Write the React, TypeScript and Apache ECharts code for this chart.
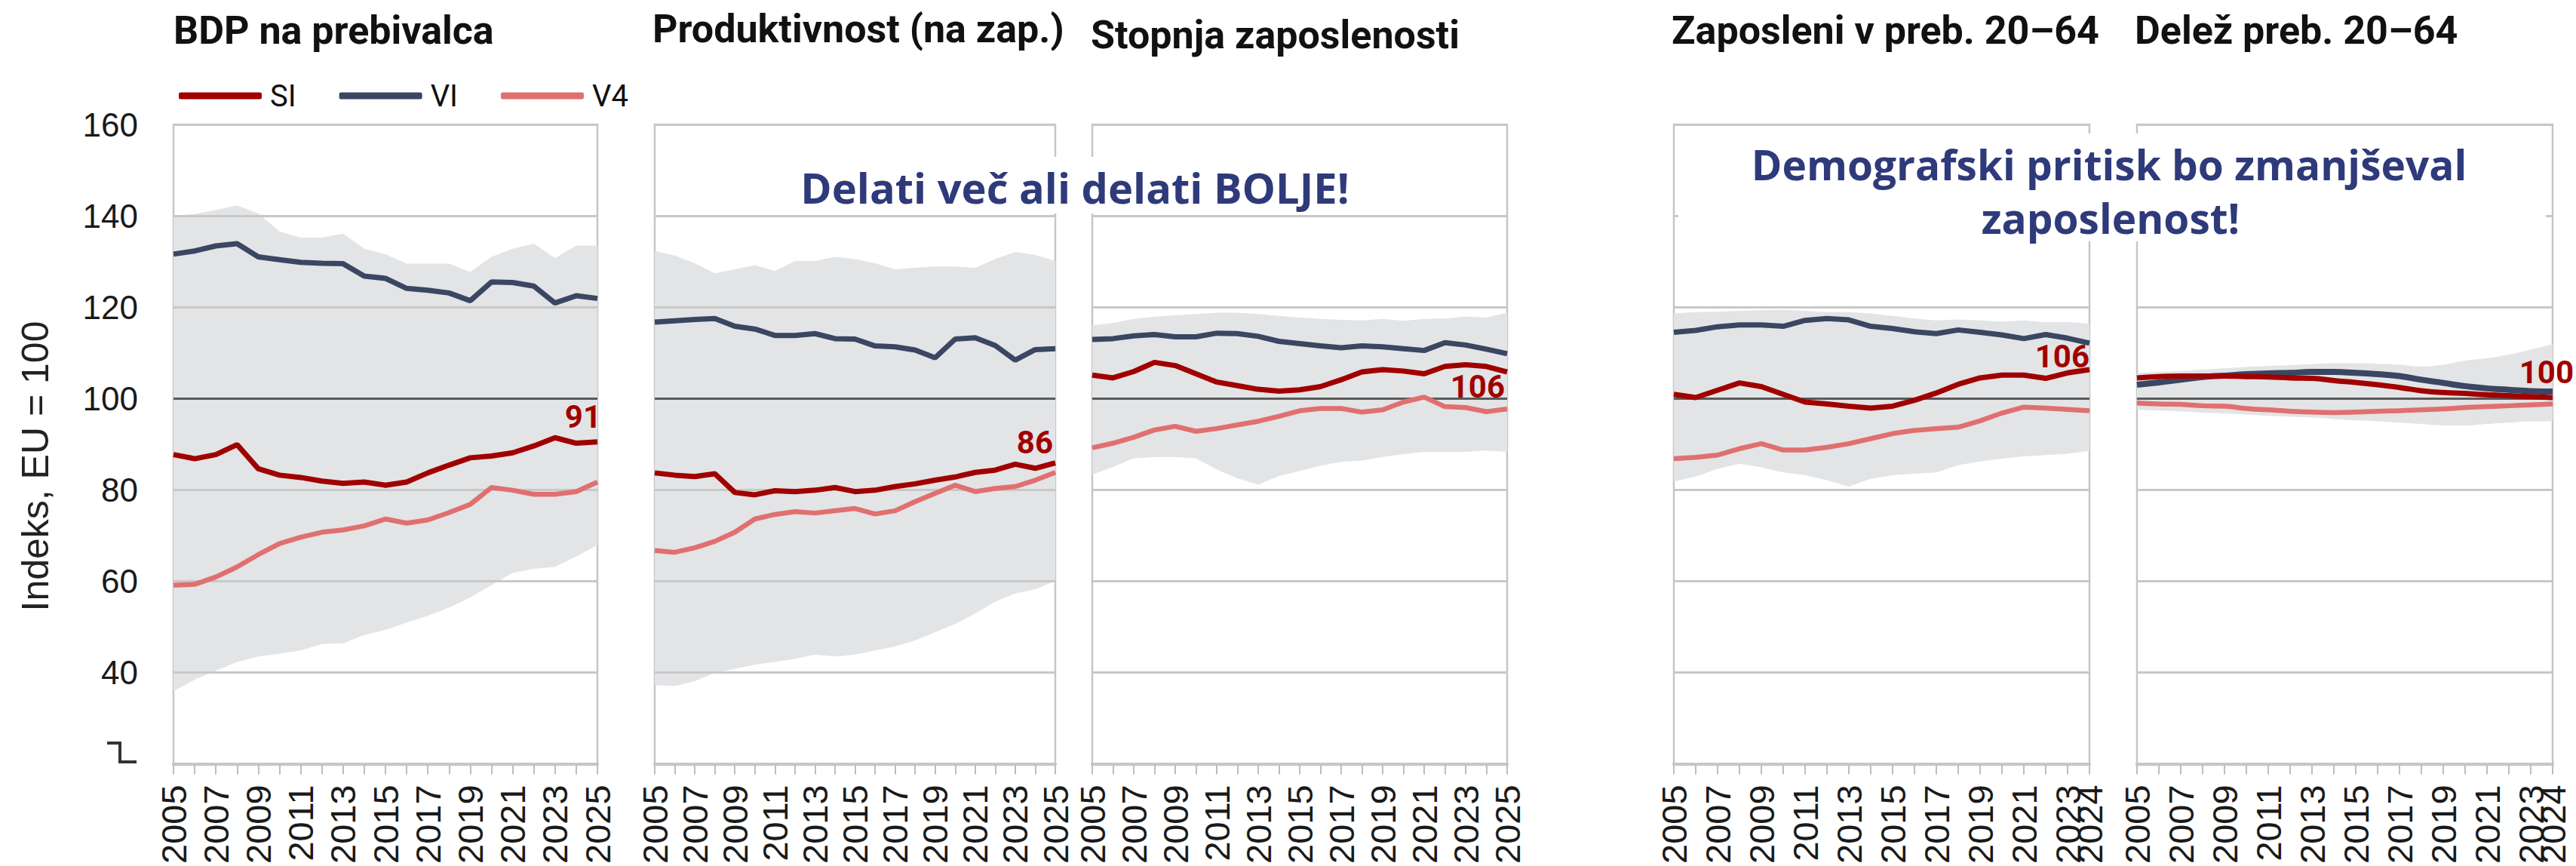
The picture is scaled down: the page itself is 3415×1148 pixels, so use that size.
import React, { useEffect, useRef } from 'react';
import * as echarts from 'echarts';

// ---------- categories ----------
const years21 = ['2005','2006','2007','2008','2009','2010','2011','2012','2013','2014','2015','2016','2017','2018','2019','2020','2021','2022','2023','2024','2025'];
const years20 = ['2005','2006','2007','2008','2009','2010','2011','2012','2013','2014','2015','2016','2017','2018','2019','2020','2021','2022','2023','2024'];

// ---------- Panel 1: BDP na prebivalca ----------
const bdpSI = [87.7,86.8,87.7,89.9,84.6,83.2,82.7,81.9,81.4,81.7,81.0,81.7,83.7,85.4,87.0,87.4,88.1,89.6,91.4,90.2,90.5];
const bdpVI = [131.6,132.3,133.4,133.9,131.0,130.4,129.8,129.6,129.5,126.8,126.3,124.1,123.7,123.1,121.4,125.5,125.4,124.6,120.9,122.5,121.9];
const bdpV4 = [59.1,59.3,60.9,63.1,65.8,68.2,69.6,70.7,71.2,72.1,73.6,72.7,73.4,75.0,76.8,80.5,79.9,79.0,79.0,79.6,81.7];
const bdpHi = [140.0,140.4,141.3,142.3,140.5,136.6,135.2,135.2,136.1,132.8,131.6,129.5,129.5,129.5,127.7,131.0,132.8,133.9,130.7,133.5,133.5];
const bdpLo = [35.9,38.4,40.4,42.3,43.5,44.1,44.8,46.2,46.4,48.2,49.3,50.9,52.4,54.2,56.4,59.1,61.8,62.7,63.1,65.4,67.9];

// ---------- Panel 2: Produktivnost (na zap.) ----------
const prodSI = [83.7,83.2,82.9,83.5,79.4,78.9,79.8,79.6,79.9,80.5,79.6,79.9,80.7,81.3,82.1,82.8,83.8,84.3,85.6,84.7,85.9];
const prodVI = [116.7,117.0,117.3,117.5,115.8,115.2,113.8,113.8,114.2,113.1,113.0,111.5,111.3,110.6,108.9,113.0,113.3,111.6,108.4,110.7,110.9];
const prodV4 = [66.7,66.3,67.3,68.7,70.7,73.6,74.6,75.2,74.9,75.4,75.9,74.7,75.4,77.4,79.2,81.0,79.6,80.3,80.7,82.1,83.8];
const prodHi = [132.3,131.3,129.6,127.4,128.3,129.2,127.9,130.1,130.1,131.0,130.5,129.6,128.3,128.6,128.9,128.9,128.6,130.5,132.1,131.4,130.1];
const prodLo = [37.2,37.0,38.1,39.9,40.8,41.7,42.3,43.0,43.9,43.5,43.9,44.8,45.7,47.0,48.8,50.6,52.9,55.5,57.3,58.2,60.0];

// ---------- Panel 3: Stopnja zaposlenosti ----------
const rateSI = [105.1,104.5,105.9,107.9,107.2,105.4,103.6,102.8,102.0,101.6,101.9,102.6,104.1,105.8,106.3,106.0,105.4,107.0,107.4,107.0,105.8];
const rateVI = [112.9,113.1,113.7,114.0,113.5,113.5,114.3,114.2,113.6,112.5,112.0,111.5,111.1,111.5,111.3,110.9,110.5,112.2,111.7,110.8,109.8];
const rateV4 = [89.2,90.2,91.5,93.1,93.9,92.8,93.4,94.2,95.0,96.1,97.3,97.8,97.8,97.0,97.5,99.2,100.3,98.2,98.0,97.1,97.7];
const rateHi = [116.0,116.5,117.4,117.9,118.2,118.5,118.8,118.8,118.5,118.1,117.7,117.4,117.2,117.1,117.4,117.0,117.4,117.5,117.9,117.7,118.8];
const rateLo = [83.3,85.0,86.9,87.2,87.2,86.9,84.4,82.5,81.1,83.0,84.1,85.3,86.1,86.4,87.2,87.8,88.3,88.3,88.3,88.6,88.3];

// ---------- Panel 4: Zaposleni v preb. 20–64 ----------
const empSI = [100.9,100.2,101.8,103.4,102.6,100.9,99.2,98.8,98.3,97.9,98.3,99.6,101.2,103.1,104.5,105.1,105.1,104.4,105.6,106.3];
const empVI = [114.5,114.9,115.7,116.1,116.1,115.8,117.1,117.5,117.2,115.8,115.3,114.6,114.2,115.0,114.5,113.9,113.1,114.0,113.2,112.1];
const empV4 = [86.8,87.1,87.6,89.0,90.1,88.7,88.7,89.3,90.1,91.2,92.3,93.0,93.4,93.7,95.1,96.8,98.1,97.9,97.6,97.3];
const empHi = [118.6,118.9,119.0,119.2,119.3,119.4,119.2,118.9,118.9,118.6,118.1,117.5,117.1,117.3,117.1,116.8,117.1,116.7,116.7,116.4];
const empLo = [81.8,82.9,84.6,85.7,84.9,83.8,83.2,82.1,80.7,82.4,83.2,83.5,83.8,85.4,86.2,86.8,87.3,87.6,87.9,88.5];

// ---------- Panel 5: Delež preb. 20–64 ----------
const popSI = [104.5,104.8,104.9,104.9,104.9,104.8,104.7,104.5,104.4,103.9,103.5,103.0,102.4,101.7,101.3,101.1,100.8,100.6,100.4,100.2];
const popVI = [103.0,103.5,104.1,104.7,105.0,105.3,105.5,105.6,105.8,105.8,105.6,105.3,104.9,104.1,103.4,102.7,102.2,101.9,101.6,101.5];
const popV4 = [99.0,98.8,98.7,98.4,98.3,97.8,97.5,97.2,97.0,96.9,97.0,97.2,97.3,97.5,97.7,98.0,98.2,98.4,98.6,98.8];
const popHi = [105.6,105.8,106.0,106.3,106.6,106.9,107.1,107.3,107.5,107.7,107.7,107.6,107.4,107.0,107.4,108.3,108.8,109.6,110.7,111.9];
const popLo = [97.5,97.3,97.2,96.9,96.7,96.5,96.2,96.0,95.8,95.5,95.2,95.0,94.7,94.4,94.1,94.1,94.4,94.7,95.0,95.0];

// ---------- texts ----------
const titles = ['BDP na prebivalca', 'Produktivnost (na zap.)', 'Stopnja zaposlenosti', 'Zaposleni v preb. 20–64', 'Delež preb. 20–64'];
const seriesNames = ['SI', 'VI', 'V4'];
const yAxisName = 'Indeks, EU = 100';
const note1 = 'Delati več ali delati BOLJE!';
const note2a = 'Demografski pritisk bo zmanjševal';
const note2b = 'zaposlenost!';

// ---------- style ----------
const C_SI = '#A00000';
const C_VI = '#3A4662';
const C_V4 = '#E07070';
const C_BAND = '#E3E4E6';
const C_GRID = '#C8C8C8';
const C_REF = '#5A5A5A';
const C_NOTE = '#2E3A7A';
const FONT_AX = "'Liberation Sans', Arial, sans-serif";
const FONT_T = "Roboto, 'Liberation Sans', sans-serif";

const data = [
  { cats: years21, si: bdpSI, vi: bdpVI, v4: bdpV4, hi: bdpHi, lo: bdpLo },
  { cats: years21, si: prodSI, vi: prodVI, v4: prodV4, hi: prodHi, lo: prodLo },
  { cats: years21, si: rateSI, vi: rateVI, v4: rateV4, hi: rateHi, lo: rateLo },
  { cats: years20, si: empSI, vi: empVI, v4: empV4, hi: empHi, lo: empLo },
  { cats: years20, si: popSI, vi: popVI, v4: popV4, hi: popHi, lo: popLo },
];

const layout = [
  { left: 230, width: 562, titleX: 230, titleY: 40, endOffset: [5, -33], smooth: false },
  { left: 868, width: 531, titleX: 865, titleY: 38, endOffset: [-3, -27], smooth: false },
  { left: 1448, width: 550, titleX: 1446, titleY: 46, endOffset: [-3, 19], smooth: false },
  { left: 2219, width: 551, titleX: 2216, titleY: 40, endOffset: [0, -18], smooth: false },
  { left: 2833, width: 551, titleX: 2830, titleY: 40, endOffset: [28, -33], smooth: true },
];

const GRID_TOP = 165;
const GRID_H = 848;

function buildOption() {
  const splitColors = [C_GRID, C_GRID, C_GRID, C_GRID, C_REF, C_GRID, C_GRID, C_GRID];
  const grid = layout.map((l) => ({
    left: l.left, top: GRID_TOP, width: l.width, height: GRID_H,
    show: true, borderColor: '#C6C6C6', borderWidth: 2.5, backgroundColor: 'transparent',
  }));
  const labelBase = { rotate: 90, fontSize: 47, fontFamily: FONT_AX, color: '#1a1a1a', margin: 28 };
  const xAxis: any[] = data.map((d, i) => ({
    type: 'category', gridIndex: i, data: d.cats, boundaryGap: false, position: 'bottom',
    axisLine: { show: true, lineStyle: { color: '#BDBDBD', width: 4 } },
    axisTick: { show: true, interval: 0, length: 14, lineStyle: { color: '#BDBDBD', width: 2 } },
    axisLabel: {
      ...labelBase,
      interval: (idx: number) => idx % 2 === 0,
      showMinLabel: true, showMaxLabel: true,
    },
    splitLine: { show: false },
  }));
  // extra label-only axes for the final year where it falls off the 2-year rhythm
  const extraAxisIndex: Record<number, number> = {};
  data.forEach((d, i) => {
    if ((d.cats.length - 1) % 2 !== 0) {
      extraAxisIndex[i] = xAxis.length;
      xAxis.push({
        type: 'category', gridIndex: i, data: d.cats, boundaryGap: false, position: 'bottom', offset: 0,
        axisLine: { show: false }, axisTick: { show: false }, splitLine: { show: false },
        axisLabel: { ...labelBase, interval: (idx: number) => idx === d.cats.length - 1, showMinLabel: false, showMaxLabel: true },
      });
    }
  });
  const yAxis = data.map((d, i) => ({
    type: 'value', gridIndex: i, min: 20, max: 160, interval: 20, z: 3,
    axisLine: { show: false }, axisTick: { show: false },
    axisLabel: {
      show: i === 0, fontSize: 44, fontFamily: FONT_AX, color: '#1a1a1a', margin: 47,
      formatter: (v: number) => (v === 20 ? '' : String(v)),
    },
    splitLine: { show: true, lineStyle: { color: splitColors, width: 3 } },
  }));

  const series: any[] = [];
  data.forEach((d, i) => {
    const l = layout[i];
    const last = d.cats.length - 1;
    series.push({
      name: 'lo' + i, type: 'line', xAxisIndex: i, yAxisIndex: i, data: d.lo,
      stack: 'band' + i, symbol: 'none', smooth: l.smooth, silent: true, z: 1,
      lineStyle: { width: 0, opacity: 0 },
    });
    series.push({
      name: 'band' + i, type: 'line', xAxisIndex: i, yAxisIndex: i,
      data: d.hi.map((h, k) => +(h - d.lo[k]).toFixed(2)),
      stack: 'band' + i, symbol: 'none', smooth: l.smooth, silent: true, z: 1,
      lineStyle: { width: 0, opacity: 0 },
      areaStyle: { color: C_BAND, opacity: 1 },
    });
    series.push({
      name: 'V4', type: 'line', xAxisIndex: i, yAxisIndex: i, data: d.v4, color: C_V4,
      symbol: 'none', smooth: l.smooth, z: 5, lineStyle: { color: C_V4, width: 6.5 },
    });
    series.push({
      name: 'VI', type: 'line', xAxisIndex: i, yAxisIndex: i, data: d.vi, color: C_VI,
      symbol: 'none', smooth: l.smooth, z: 5, lineStyle: { color: C_VI, width: i === 4 ? 8 : 7 },
    });
    series.push({
      name: 'SI', type: 'line', xAxisIndex: i, yAxisIndex: i, data: d.si, color: C_SI,
      symbol: 'none', smooth: l.smooth, z: 6, lineStyle: { color: C_SI, width: 7 },
      markPoint: {
        symbol: 'circle', symbolSize: 1, silent: true,
        itemStyle: { color: 'rgba(0,0,0,0)' },
        label: {
          show: true, formatter: '{c}', position: 'inside', align: 'right', verticalAlign: 'middle',
          offset: l.endOffset, fontSize: 42, fontWeight: 'bold', color: C_SI, fontFamily: FONT_T,
        },
        data: [{ coord: [d.cats[last], d.si[last]], value: Math.round(d.si[last]) }],
      },
    });
    if (extraAxisIndex[i] !== undefined) {
      // invisible carrier series so the label-only axis is active
      series.push({
        name: 'axis' + i, type: 'line', xAxisIndex: extraAxisIndex[i], yAxisIndex: i, data: d.si,
        symbol: 'none', silent: true, z: 0, lineStyle: { width: 0, opacity: 0 },
      });
    }
  });

  const graphic: any[] = [];
  titles.forEach((t, i) => {
    graphic.push({
      type: 'text', x: layout[i].titleX, y: layout[i].titleY, z: 50,
      style: { text: t, fontSize: 52, fontWeight: 'bold', fontFamily: FONT_T, fill: '#111', align: 'left', verticalAlign: 'middle' },
    });
  });
  graphic.push({
    type: 'text', x: 47, y: 618, rotation: Math.PI / 2, z: 50,
    style: { text: yAxisName, fontSize: 50, fontFamily: FONT_AX, fill: '#222', align: 'center', verticalAlign: 'middle' },
  });
  graphic.push({
    type: 'polyline', z: 50,
    shape: { points: [[142, 985], [159, 985], [159, 1010], [181, 1010]] },
    style: { stroke: '#333', lineWidth: 4, fill: null },
  });
  graphic.push({ type: 'rect', z: 100, shape: { x: 1050, y: 208, width: 750, height: 75 }, style: { fill: '#fff' } });
  graphic.push({
    type: 'text', x: 1425, y: 248, z: 101,
    style: { text: note1, fontSize: 56, fontWeight: 'bold', fontFamily: "'Open Sans', sans-serif", fill: C_NOTE, align: 'center', verticalAlign: 'middle' },
  });
  graphic.push({ type: 'rect', z: 100, shape: { x: 2225, y: 177, width: 1150, height: 143 }, style: { fill: '#fff' } });
  graphic.push({
    type: 'text', x: 2796, y: 217, z: 101,
    style: { text: note2a, fontSize: 55, fontWeight: 'bold', fontFamily: "'Open Sans', sans-serif", fill: C_NOTE, align: 'center', verticalAlign: 'middle' },
  });
  graphic.push({
    type: 'text', x: 2798, y: 288, z: 101,
    style: { text: note2b, fontSize: 55, fontWeight: 'bold', fontFamily: "'Open Sans', sans-serif", fill: C_NOTE, align: 'center', verticalAlign: 'middle' },
  });

  return {
    animation: false,
    backgroundColor: '#fff',
    legend: {
      data: seriesNames, left: 232, top: 102, itemWidth: 110, itemHeight: 9, itemGap: 57,
      icon: 'roundRect', selectedMode: false,
      textStyle: { fontSize: 40, color: '#111', fontFamily: FONT_T, padding: [0, 0, 0, 6] },
    },
    grid, xAxis, yAxis, series, graphic,
  };
}

export default function App() {
  const ref = useRef<HTMLDivElement>(null);
  useEffect(() => {
    if (!ref.current) return;
    const chart = echarts.init(ref.current, null, { renderer: 'svg' });
    chart.setOption(buildOption() as any);
    return () => chart.dispose();
  }, []);
  return <div ref={ref} style={{ position: 'absolute', left: 0, top: 0, width: 3415, height: 1148 }} />;
}
